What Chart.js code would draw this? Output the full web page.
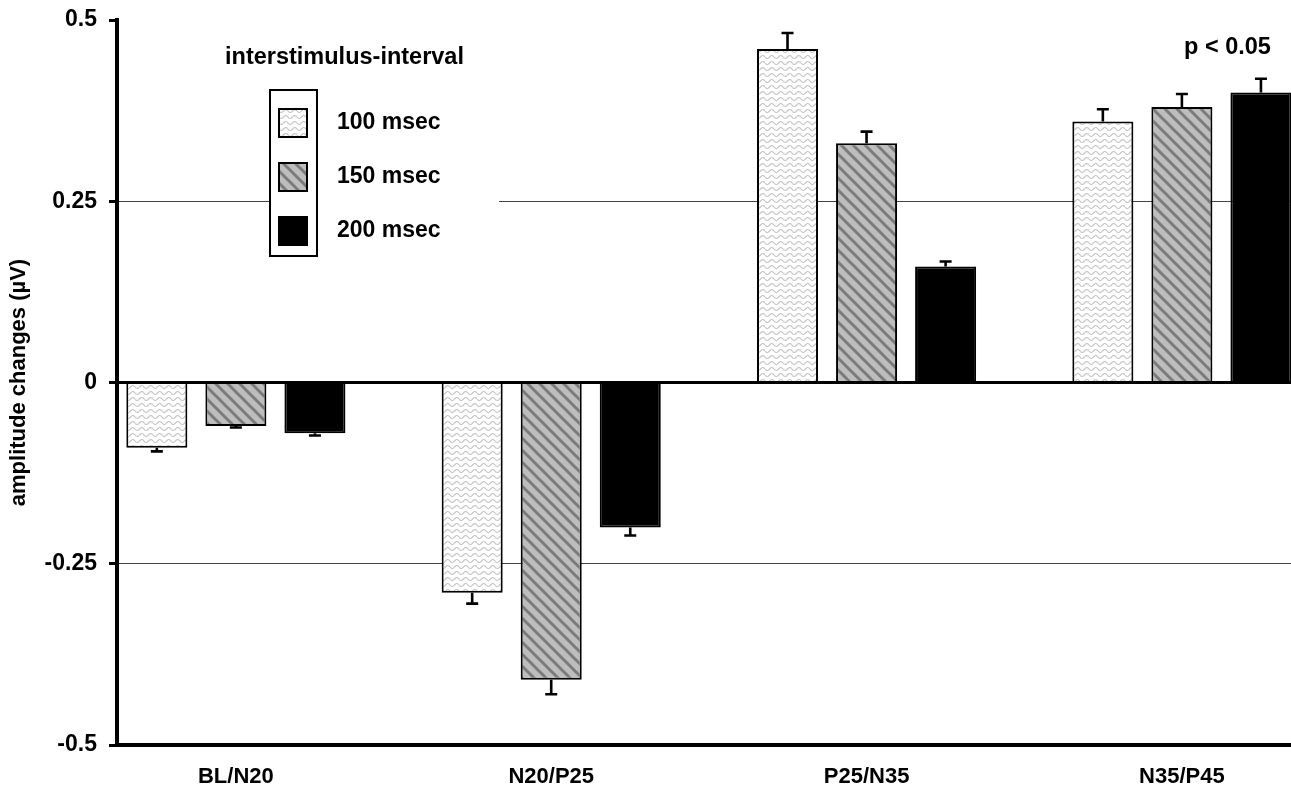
<!DOCTYPE html>
<html>
<head>
<meta charset="utf-8">
<script src="https://cdn.jsdelivr.net/npm/chart.js@4.4.1/dist/chart.umd.min.js"></script>
<style>
html, body { margin: 0; padding: 0; background: #fff; }
</style>
</head>
<body>
<canvas id="myChart" width="1291" height="793"></canvas>
<script>
const categories = ['BL/N20', 'N20/P25', 'P25/N35', 'N35/P45'];
const seriesNames = ['100 msec', '150 msec', '200 msec'];
const isi100 = [-0.09, -0.29, 0.46, 0.36];
const isi150 = [-0.06, -0.41, 0.33, 0.38];
const isi200 = [-0.07, -0.20, 0.16, 0.40];
// one-sided error bars (away from zero)
const err100 = [0.005, 0.015, 0.022, 0.017];
const err150 = [0.002, 0.020, 0.016, 0.018];
const err200 = [0.003, 0.011, 0.007, 0.019];
const yTicks = [-0.5, -0.25, 0, 0.25, 0.5];

const FONT = "'Liberation Sans', Arial, sans-serif";

function wavePattern(){
    const c = document.createElement('canvas');
    c.width = 9; c.height = 6;
    const g = c.getContext('2d');
    g.fillStyle = '#fff';
    g.fillRect(0, 0, 9, 6);
    g.strokeStyle = '#c6c6c6';
    g.lineWidth = 1.2;
    g.beginPath();
    for(let x = 0; x <= 9; x += 0.5){
        const y = 3 + 1.5 * Math.sin(x / 9 * Math.PI * 2);
        if(x === 0) g.moveTo(x, y); else g.lineTo(x, y);
    }
    g.stroke();
    return g.createPattern(c, 'repeat');
}

function hatchPattern(){
    const c = document.createElement('canvas');
    c.width = 12; c.height = 12;
    const g = c.getContext('2d');
    g.fillStyle = '#bdbdbd';
    g.fillRect(0, 0, 12, 12);
    g.strokeStyle = '#7b7b7b';
    g.lineWidth = 3;
    [-12, 0, 12].forEach((o)=>{
        g.beginPath();
        g.moveTo(o - 2, -2);
        g.lineTo(o + 14, 14);
        g.stroke();
    });
    return g.createPattern(c, 'repeat');
}

const fills = [wavePattern(), hatchPattern(), '#000'];

function toPoints(arr){
    return arr.map((v, i)=>({x: i, y: v}));
}

const errorBars = {
    id: 'errorBars',
    afterDatasetsDraw(chart){
        const c = chart.ctx;
        const yScale = chart.scales.y;
        c.save();
        c.strokeStyle = '#000';
        c.lineWidth = 2.6;
        chart.data.datasets.forEach((ds, i)=>{
            const meta = chart.getDatasetMeta(i);
            meta.data.forEach((bar, j)=>{
                const v = ds.data[j].y;
                const e = ds.errors[j];
                const yEnd = yScale.getPixelForValue(v + Math.sign(v) * e);
                c.beginPath();
                c.moveTo(bar.x, bar.y);
                c.lineTo(bar.x, yEnd);
                c.moveTo(bar.x - 6, yEnd);
                c.lineTo(bar.x + 6, yEnd);
                c.stroke();
            });
        });
        c.restore();
    }
};

const legendBox = {
    id: 'legendBox',
    beforeDatasetsDraw(chart){
        // white legend background hides the grid line behind it
        const c = chart.ctx;
        c.save();
        c.fillStyle = '#fff';
        c.fillRect(269, 89, 230, 168);
        c.restore();
    },
    afterDraw(chart){
        const c = chart.ctx;
        c.save();
        c.fillStyle = '#000';
        c.font = 'bold 23.5px ' + FONT;
        c.textBaseline = 'middle';
        c.textAlign = 'left';
        c.fillText('interstimulus-interval', 225, 58);
        c.fillText('p < 0.05', 1184, 48);

        c.fillStyle = '#fff';
        c.fillRect(270, 90, 47, 166);
        c.strokeStyle = '#000';
        c.lineWidth = 2;
        c.strokeRect(270, 90, 47, 166);

        const rows = [123, 177, 231];
        c.font = 'bold 23px ' + FONT;
        chart.data.datasets.forEach((ds, i)=>{
            c.fillStyle = ds.backgroundColor;
            c.fillRect(279, rows[i] - 14, 28, 28);
            c.strokeRect(279, rows[i] - 14, 28, 28);
            c.fillStyle = '#000';
            c.fillText(ds.label, 337, rows[i]);
        });
        c.restore();
    }
};

const ctx = document.getElementById('myChart');
const errs = [err100, err150, err200];
const chart = new Chart(ctx, {
    type: 'bar',
    data: {
        datasets: [isi100, isi150, isi200].map((vals, i)=>({
            label: seriesNames[i],
            data: toPoints(vals),
            errors: errs[i],
            backgroundColor: fills[i],
            borderColor: '#000',
            borderWidth: 2,
            borderSkipped: 'start',
            categoryPercentage: 0.752,
            barPercentage: 0.772,
        })),
    },
    options: {
        responsive: false,
        animation: false,
        layout: { padding: { top: 20, right: 0, left: 0, bottom: 0 } },
        plugins: {
            legend: { display: false },
            tooltip: { enabled: false },
        },
        scales: {
            x: {
                type: 'linear',
                offset: false,
                min: -0.377,
                max: 3.346,
                afterBuildTicks: (scale)=>{
                    scale.ticks = categories.map((c, i)=>({value: i}));
                },
                afterFit: (scale)=>{ scale.height = 48; },
                ticks: {
                    callback: (v)=>categories[v],
                    color: '#000',
                    font: { family: FONT, size: 22, weight: 'bold' },
                    padding: 11,
                    maxRotation: 0,
                },
                grid: { display: false, offset: false },
                border: { display: true, color: '#000', width: 4 },
            },
            y: {
                min: -0.5,
                max: 0.5,
                afterBuildTicks: (scale)=>{
                    scale.ticks = yTicks.map((v)=>({value: v}));
                },
                afterFit: (scale)=>{
                    scale.width = 117;
                    scale.paddingTop = 0;
                    scale.paddingBottom = 0;
                },
                ticks: {
                    callback: (v)=>String(v),
                    color: '#000',
                    font: { family: FONT, size: 23, weight: 'bold' },
                    padding: 12,
                },
                grid: {
                    color: (c)=>{
                        const v = c.tick ? c.tick.value : null;
                        if(v === 0) return '#000';
                        if(v === 0.25 || v === -0.25) return '#444';
                        return 'rgba(0,0,0,0)';
                    },
                    lineWidth: (c)=>(c.tick && c.tick.value === 0 ? 3 : 1),
                    tickColor: '#000',
                    tickWidth: 3,
                    tickLength: 8,
                    drawTicks: true,
                },
                border: { display: true, color: '#000', width: 4 },
                title: {
                    display: true,
                    text: 'amplitude changes (µV)',
                    color: '#000',
                    font: { family: FONT, size: 22, weight: 'bold' },
                    padding: { top: 6, bottom: 0 },
                },
            },
        },
    },
    plugins: [errorBars, legendBox],
});
</script>
</body>
</html>
